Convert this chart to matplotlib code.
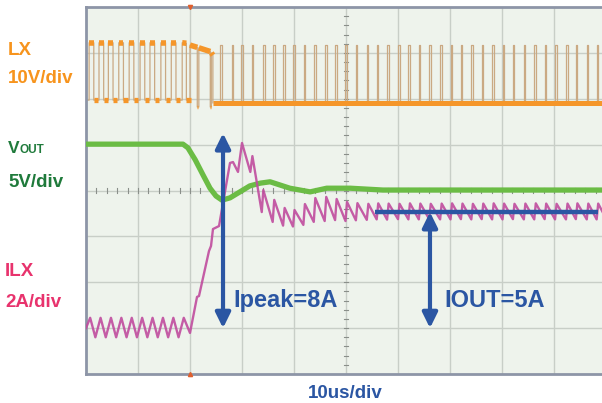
import matplotlib
matplotlib.use("Agg")
import matplotlib.pyplot as plt

# ---------------- data (time in us, 10 us/div) ----------------
# LX switching node (V, 10 V/div): pulses before / during the transient
lx_on = [0.6, 2.5, 4.3, 6.3, 8.3, 10.4, 12.3, 14.4, 16.4, 18.5, 20.0, 21.7, 24.1]
lx_off = [1.5, 3.4, 5.2, 7.2, 9.2, 11.3, 13.2, 15.3, 17.3, 19.3, 21.4, 23.9, 24.4]
lx_v_start = [12.7, 12.7, 12.7, 12.7, 12.7, 12.7, 12.7, 12.7, 12.7, 12.7, 12.2, 11.6, 10.5]
lx_v_end = [12.7, 12.7, 12.7, 12.7, 12.7, 12.7, 12.7, 12.7, 12.7, 12.6, 11.7, 10.8, 10.0]
lx_v_low = [0.2, 0.2, 0.2, 0.2, 0.2, 0.2, 0.2, 0.2, 0.2, 0.2, -1.3, -1.3, -0.4]
# LX narrow pulses after the transient
lx_spike_t = [25.8, 28.0, 29.9, 31.9, 34.1, 36.0, 37.9, 39.9, 41.9, 43.9, 46.0, 47.9,
              49.9, 51.9, 54.0, 55.9, 57.9, 60.0, 62.0, 64.0, 66.0, 68.1, 70.1, 72.1,
              74.1, 76.1, 78.1, 80.1, 82.1, 84.2, 86.2, 88.2, 90.2, 92.3, 94.2, 96.3, 98.2]
lx_spike_v = 12.3
lx_low_after = -0.4

# VOUT (screen divisions, 5 V/div)
vout_t = [0.0, 18.65, 19.6, 21.0, 22.5, 23.85, 25.0, 26.15, 27.7, 29.6, 31.5, 33.5,
          35.4, 39.2, 43.1, 46.3, 50.8, 57.1, 70.0, 100.0]
vout_div = [5.01, 5.01, 4.93, 4.67, 4.34, 4.05, 3.88, 3.79, 3.84, 3.97, 4.10, 4.16,
            4.19, 4.05, 3.97, 4.05, 4.05, 4.01, 4.01, 4.01]

# ILX inductor current (A, 2 A/div)
ilx_t = [0.0, 0.8, 1.8, 2.8, 3.8, 4.8, 5.8, 6.8, 7.8, 8.8, 9.8, 10.8, 11.8, 12.8,
         13.8, 14.8, 15.8, 16.8, 17.8, 18.8, 20.0,
         21.35, 21.73, 23.65, 24.04, 24.42, 25.58, 27.69, 28.27, 29.23, 30.0,
         31.6, 32.0, 33.8, 34.1, 35.9, 36.2, 37.9, 38.2, 39.8, 40.1,
         41.8, 42.1, 43.8, 44.1, 45.9, 46.2, 47.9, 48.2, 49.9, 50.2,
         51.9, 52.2, 54.0, 54.3, 55.9, 56.2, 57.9, 58.2, 60.0, 60.3,
         62.0, 62.3, 64.0, 64.3, 66.0, 66.3, 68.1, 68.4, 70.1, 70.4,
         72.1, 72.4, 74.1, 74.4, 76.1, 76.4, 78.1, 78.4, 80.1, 80.4,
         82.1, 82.4, 84.2, 84.5, 86.2, 86.5, 88.2, 88.5, 90.2, 90.5,
         92.3, 92.6, 94.2, 94.5, 96.3, 96.6, 98.2, 98.5, 100.0]
ilx_a = [0.0, 0.45, -0.40, 0.45, -0.40, 0.45, -0.40, 0.45, -0.40, 0.45, -0.40, 0.45,
         -0.40, 0.45, -0.40, 0.45, -0.40, 0.45, -0.40, 0.45, -0.21,
         1.36, 1.40, 3.36, 3.58, 4.32, 4.45, 7.20, 7.24, 6.81, 8.07,
         6.81, 7.50, 5.06, 6.02, 4.63, 5.59, 4.47, 5.24, 4.43, 5.15,
         4.50, 5.41, 4.63, 5.67, 4.67, 5.72, 4.71, 5.63, 4.67, 5.50,
         4.70, 5.45, 4.72, 5.42, 4.74, 5.44, 4.73, 5.43, 4.75, 5.42,
         4.74, 5.44, 4.74, 5.43, 4.75, 5.42, 4.74, 5.43, 4.74, 5.44,
         4.75, 5.43, 4.74, 5.42, 4.75, 5.43, 4.74, 5.44, 4.74, 5.43,
         4.75, 5.42, 4.74, 5.43, 4.74, 5.44, 4.75, 5.43, 4.74, 5.42,
         4.74, 5.43, 4.75, 5.44, 4.74, 5.43, 4.74, 5.43, 4.78]

ipeak_arrow = (26.35, 0.0, 8.5)      # time, from A, to A
iout_level = 5.06
iout_line_t = (55.6, 98.5)
iout_arrow_t = 66.15

# ---------------- styling ----------------
W, H = 602, 403
FONT = 'Liberation Sans'
ORANGE = '#f5962a'
TAN = '#caa983'
GREEN = '#6bbc45'
MAGENTA = '#c04c9e'
BLUE = '#2b56a3'

LX_ZERO = 5.95   # division of 0 V for LX
ILX_ZERO = 1.0   # division of 0 A for ILX


def lx_div(v):
    return LX_ZERO + v / 10.0


def ilx_div(a):
    return ILX_ZERO + a / 2.0


fig = plt.figure(figsize=(W / 100, H / 100), dpi=100)
fig.patch.set_facecolor('white')
ax = fig.add_axes([86 / W, (H - 374) / H, 520 / W, 367 / H])
ax.set_xlim(0, 100)
ax.set_ylim(0, 8)
ax.set_facecolor('#eef3ec')
ax.set_xticks([])
ax.set_yticks([])
for s in ['left', 'top', 'bottom']:
    ax.spines[s].set_color('#8d95a7')
    ax.spines[s].set_linewidth(2.0)
ax.spines['right'].set_visible(False)

# grid
for gx in range(10, 100, 10):
    ax.axvline(gx, color='#c8cec7', lw=1.0, zorder=1)
for gy in range(1, 8):
    ax.axhline(gy, color='#c8cec7', lw=1.0, zorder=1)
# centre-line minor ticks
for k in range(1, 40):
    yy = k * 0.2
    ax.plot([49.6, 50.4], [yy, yy], color='#8a8f8a', lw=0.8, zorder=1)
for k in range(1, 50):
    xx = k * 2.0
    ax.plot([xx, xx], [3.955, 4.045], color='#8a8f8a', lw=0.8, zorder=1)

# ---- LX ----
pt, pv = [0.0], [lx_div(0.2)]
for on, off, vs, ve, lo in zip(lx_on, lx_off, lx_v_start, lx_v_end, lx_v_low):
    prev_lo = pv[-1]
    pt += [on, on, off, off]
    pv += [prev_lo, lx_div(vs), lx_div(ve), lx_div(lo)]
ax.plot(pt, pv, color=TAN, lw=0.9, zorder=2)
for i, (on, off, vs, ve, lo) in enumerate(zip(lx_on, lx_off, lx_v_start, lx_v_end, lx_v_low)):
    ax.plot([on, off], [lx_div(vs), lx_div(ve)], color=ORANGE, lw=4.0,
            solid_capstyle='butt', zorder=3)
    if i < 10:
        ax.plot([off, off + 0.8], [lx_div(lo), lx_div(lo)], color=ORANGE, lw=3.8,
                solid_capstyle='butt', zorder=3)
    elif lo < -1:
        ax.plot([off, off + 0.2], [lx_div(lo), lx_div(lo)], color=ORANGE, lw=2.5,
                solid_capstyle='butt', zorder=3)
for st in lx_spike_t:
    ax.plot([st, st, st + 0.3, st + 0.3],
            [lx_div(lx_low_after), lx_div(lx_spike_v), lx_div(lx_spike_v), lx_div(lx_low_after)],
            color=TAN, lw=0.9, zorder=2)
ax.plot([lx_off[-1], 100], [lx_div(lx_low_after)] * 2, color=ORANGE, lw=3.6,
        solid_capstyle='butt', zorder=3)

# ---- VOUT ----
ax.plot(vout_t, vout_div, color=GREEN, lw=3.8, solid_joinstyle='round', zorder=4)

# ---- ILX ----
ax.plot(ilx_t, [ilx_div(a) for a in ilx_a], color=MAGENTA, lw=1.7, alpha=0.9, zorder=5)

# ---- annotations ----
t0, a0, a1 = ipeak_arrow
ax.annotate('', xy=(t0, ilx_div(a1)), xytext=(t0, ilx_div(a0)),
            arrowprops=dict(arrowstyle='<|-|>,head_length=0.65,head_width=0.32',
                            color=BLUE, lw=3.0, mutation_scale=14,
                            shrinkA=0, shrinkB=0), zorder=7)
ax.plot(list(iout_line_t), [ilx_div(iout_level)] * 2, color=BLUE, lw=3.2,
        solid_capstyle='butt', zorder=7)
ax.annotate('', xy=(iout_arrow_t, ilx_div(iout_level)), xytext=(iout_arrow_t, ilx_div(0.0)),
            arrowprops=dict(arrowstyle='<|-|>,head_length=0.65,head_width=0.32',
                            color=BLUE, lw=3.0, mutation_scale=14,
                            shrinkA=0, shrinkB=0), zorder=7)

# trigger markers
ax.plot([20.0], [8.0], marker='v', ms=3, color='#e0602e', clip_on=False, zorder=8)
ax.plot([20.0], [0.0], marker='^', ms=3, color='#e0602e', clip_on=False, zorder=8)


def ftxt(x, y, s, color, size, ha='left'):
    fig.text(x / W, 1 - y / H, s, color=color, fontsize=size, fontweight='bold',
             family=FONT, ha=ha, va='baseline')


ftxt(8, 55, 'LX', '#f7941d', 13.5)
ftxt(8, 83, '10V/div', '#f7941d', 13.5)
ftxt(8, 153, 'V', '#1f7a3b', 12.5)
ftxt(19.5, 153, 'OUT', '#1f7a3b', 8.5)
ftxt(8, 187, '5V/div', '#1f7a3b', 13.5)
ftxt(5, 276, 'ILX', '#e8336d', 13.5)
ftxt(5, 307, '2A/div', '#e8336d', 13.5)
ftxt(233, 307, 'Ipeak=8A', BLUE, 17)
ftxt(444, 307, 'IOUT=5A', BLUE, 17)
ftxt(308, 398, '10us/div', BLUE, 13.5)

fig.savefig('out.png', dpi=100, facecolor='white')
